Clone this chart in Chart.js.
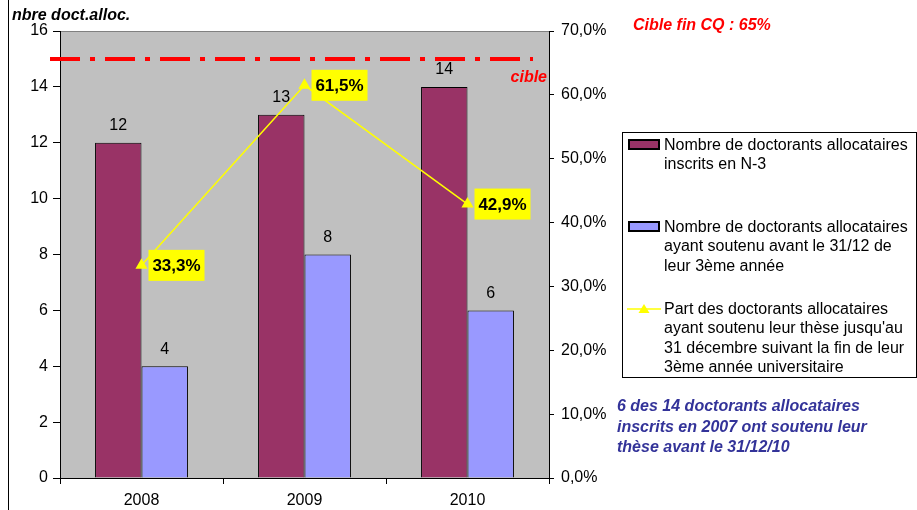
<!DOCTYPE html>
<html lang="fr">
<head>
<meta charset="UTF-8">
<title>Doctorants allocataires</title>
<script src="https://cdn.jsdelivr.net/npm/chart.js"></script>
<style>
  body { margin:0; background:#fff; font-family:"Liberation Sans", Arial, sans-serif; }
  #wrap { position:relative; width:917px; height:510px; overflow:hidden; }
  #frame { position:absolute; left:8px; top:0; height:510px; border-left:1px solid #000; }
  canvas { position:absolute; left:0; top:0; }
  .note { position:absolute; font-weight:bold; font-style:italic; font-size:16px; white-space:nowrap; }
  #title { left:12px; top:5px; line-height:20px; color:#000; }
  #target { left:633px; top:15px; line-height:20px; color:#ff0000; }
  #comment { left:617px; top:396px; line-height:20.5px; color:#333399; }
  #legend { position:absolute; left:622px; top:132px; width:295px; height:246px;
            box-sizing:border-box; border:1px solid #000; background:#fff; }
  .item { position:absolute; left:0; width:100%; font-size:16px; line-height:19.3px; color:#000; }
  .item .txt { position:absolute; left:41px; top:0; white-space:nowrap; }
  .item .sw { position:absolute; left:5px; width:32px; height:11px; box-sizing:border-box; border:2px solid #000; }
  .item svg { position:absolute; left:4px; }
</style>
</head>
<body>
<div id="wrap">
  <canvas id="chart" width="917" height="510"></canvas>
  <div id="frame"></div>
  <div id="title" class="note">nbre doct.alloc.</div>
  <div id="target" class="note">Cible fin CQ : 65%</div>
  <div id="comment" class="note">6 des 14 doctorants allocataires<br>inscrits en 2007 ont soutenu leur<br>thèse avant le 31/12/10</div>
  <div id="legend"></div>
</div>

<script>
// data
const years = ['2008', '2009', '2010'];
const inscrits = [12, 13, 14];
const soutenus = [4, 8, 6];
const partSoutenus = [33.3, 61.5, 42.9];
const cible = 15;      // target line, read on left axis
const leftMax = 16;
const rightMax = 70;

const seriesLabels = [
    ['Nombre de doctorants allocataires', 'inscrits en N-3'],
    ['Nombre de doctorants allocataires', 'ayant soutenu avant le 31/12 de', 'leur 3ème année'],
    ['Part des doctorants allocataires', 'ayant soutenu leur thèse jusqu\'au', '31 décembre suivant la fin de leur', '3ème année universitaire']
];

const FONT = '"Liberation Sans", Arial, sans-serif';
const pct = v => v.toFixed(1).replace('.', ',') + '%';

const extras = {
    id: 'extras',
    beforeDraw(chart) {
        const { ctx, chartArea: a } = chart;
        ctx.save();
        ctx.fillStyle = '#C0C0C0';
        ctx.fillRect(a.left, a.top, a.right - a.left, a.bottom - a.top);
        ctx.strokeStyle = '#808080';
        ctx.lineWidth = 1;
        ctx.beginPath();
        ctx.moveTo(a.left, a.top + 0.5);
        ctx.lineTo(a.right, a.top + 0.5);
        ctx.stroke();
        ctx.restore();
    },
    afterDatasetsDraw(chart) {
        const { ctx, chartArea: a } = chart;
        ctx.save();

        // values above bars
        ctx.fillStyle = '#000';
        ctx.font = '16px ' + FONT;
        ctx.textAlign = 'center';
        ctx.textBaseline = 'middle';
        [0, 1].forEach(i => {
            chart.getDatasetMeta(i).data.forEach((bar, j) => {
                ctx.fillText(chart.data.datasets[i].data[j], bar.x, bar.y - 17);
            });
        });

        // target line
        const yc = chart.scales.y.getPixelForValue(cible);
        ctx.strokeStyle = '#FF0000';
        ctx.lineWidth = 4;
        ctx.setLineDash([30, 10, 5, 10]);
        ctx.beginPath();
        ctx.moveTo(a.left - 10, yc);
        ctx.lineTo(a.right - 16, yc);
        ctx.stroke();
        ctx.setLineDash([]);
        ctx.fillStyle = '#FF0000';
        ctx.font = 'italic bold 16px ' + FONT;
        ctx.textAlign = 'right';
        ctx.fillText('cible', a.right - 2, yc + 19);

        // yellow value boxes on the line
        ctx.font = 'bold 17px ' + FONT;
        ctx.textAlign = 'center';
        chart.getDatasetMeta(2).data.forEach((pt, j) => {
            const bx = pt.x + 7, bw = 56, bh = 31;
            ctx.fillStyle = '#FFFF00';
            ctx.fillRect(bx, pt.y - bh / 2, bw, bh);
            ctx.fillStyle = '#000';
            ctx.fillText(pct(partSoutenus[j]), bx + bw / 2, pt.y + 1);
        });
        ctx.restore();
    }
};

const ctx = document.getElementById('chart').getContext('2d');
const chart = new Chart(ctx, {
    type: 'bar',
    data: {
        labels: years,
        datasets: [{
            label: seriesLabels[0].join(' '),
            data: inscrits,
            backgroundColor: '#993366',
            borderColor: '#000',
            borderWidth: 1,
            yAxisID: 'y',
            order: 2
        }, {
            label: seriesLabels[1].join(' '),
            data: soutenus,
            backgroundColor: '#9999FF',
            borderColor: '#000',
            borderWidth: 1,
            yAxisID: 'y',
            order: 2
        }, {
            type: 'line',
            label: seriesLabels[2].join(' '),
            data: partSoutenus,
            borderColor: '#FFFF00',
            borderWidth: 1.5,
            pointStyle: 'triangle',
            pointRadius: 5.5,
            pointBackgroundColor: '#FFFF00',
            pointBorderColor: '#FFFF00',
            tension: 0,
            yAxisID: 'y1',
            order: 0
        }]
    },
    options: {
        responsive: false,
        animation: false,
        categoryPercentage: 0.57,
        barPercentage: 1,
        layout: { padding: { top: 31, left: 0, right: 0, bottom: 0 } },
        plugins: { legend: { display: false }, tooltip: { enabled: false } },
        scales: {
            x: {
                grid: { offset: true, drawOnChartArea: false, tickLength: 6, color: '#000' },
                border: { display: true, color: '#000' },
                ticks: { color: '#000', font: { family: FONT, size: 16 }, padding: 7 },
                afterFit(s) { s.height = 32; }
            },
            y: {
                position: 'left',
                min: 0,
                max: leftMax,
                grid: { drawOnChartArea: false, tickLength: 7, color: '#000' },
                border: { display: true, color: '#000' },
                ticks: { stepSize: 2, color: '#000', font: { family: FONT, size: 16 }, padding: 5 },
                afterFit(s) { s.width = 60; }
            },
            y1: {
                position: 'right',
                min: 0,
                max: rightMax,
                grid: { drawOnChartArea: false, tickLength: 5, color: '#000' },
                border: { display: true, color: '#000' },
                ticks: {
                    stepSize: 10, color: '#000', font: { family: FONT, size: 16 }, padding: 7,
                    callback: v => pct(v)
                },
                afterFit(s) { s.width = 368; }
            }
        }
    },
    plugins: [extras]
});

// legend
const legendTops = [2, 84, 166];
const legend = document.getElementById('legend');
chart.data.datasets.forEach((ds, i) => {
    const item = document.createElement('div');
    item.className = 'item';
    item.style.top = legendTops[i] + 'px';
    if (ds.type === 'line') {
        item.innerHTML = '<svg width="34" height="12" style="top:4px">' +
            '<line x1="0" y1="6" x2="34" y2="6" stroke="' + ds.borderColor + '" stroke-width="1.5"/>' +
            '<polygon points="17,1 22.5,10 11.5,10" fill="' + ds.pointBackgroundColor + '"/></svg>';
    } else {
        const sw = document.createElement('div');
        sw.className = 'sw';
        sw.style.top = '4px';
        sw.style.background = ds.backgroundColor;
        item.appendChild(sw);
    }
    const txt = document.createElement('div');
    txt.className = 'txt';
    txt.innerHTML = seriesLabels[i].join('<br>');
    item.appendChild(txt);
    legend.appendChild(item);
});
</script>
</body>
</html>
